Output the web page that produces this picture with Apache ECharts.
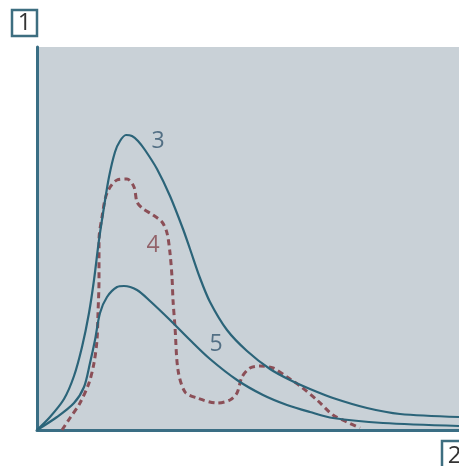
<!DOCTYPE html>
<html><head><meta charset="utf-8">
<script src="https://cdn.jsdelivr.net/npm/echarts@6/dist/echarts.min.js"></script>
<style>html,body{margin:0;padding:0;background:#fff}#c{width:459px;height:466px}</style>
</head><body><div id="c"></div>
<script>
// Curve 3 (upper solid)
const curve3 = [[0,0],[13,13],[27,31],[37,54],[45,83],[52,117],[57,150],[62,190],[67,223],[72,253],[78,278],[83,289],[89,295],[95,294],[101,289],[108,280],[120,261],[133,234],[146,201],[153,181],[163,152],[173,128],[190,100],[210,79],[233,61],[253,50],[273,41],[296,32],[330,22],[363,16],[422,13]];
// Curve 5 (lower solid)
const curve5 = [[0,0],[20,13],[37,27],[47,43],[53,67],[58,90],[63,117],[70,133],[80,143],[87,144],[100,140],[113,129],[133,110],[153,90],[173,71],[200,50],[226,35],[250,25],[273,18],[296,12],[346,7],[422,4]];
// Curve 4 (dashed)
const curve4 = [[25,0],[33,12],[43,27],[52,47],[57,67],[60,90],[61,117],[62,150],[62,190],[65,213],[70,237],[80,250],[90,251],[97,243],[100,228],[105,222],[116,215],[125,208],[130,197],[133,177],[135,153],[136,130],[138,103],[141,60],[148,38],[160,32],[180,27],[193,30],[200,37],[205,53],[213,62],[223,64],[236,62],[250,53],[263,44],[280,30],[296,15],[310,8],[323,2]];
const labels = [{t:'3',x:121,y:289,c:'#34566f'},{t:'4',x:116,y:185,c:'#84474f'},{t:'5',x:179,y:86,c:'#34566f'}];
const cornerLabels = ['1','2'];

const chart = echarts.init(document.getElementById('c'));
const blue = '#2b6479', red = '#8b4f57';
chart.setOption({
  animation:false,
  grid:{left:37,top:47,width:422,height:383,show:true,backgroundColor:'#c9d1d7',borderWidth:0},
  xAxis:{type:'value',min:0,max:422,axisLine:{show:true,onZero:false,lineStyle:{color:'#3a6e84',width:3}},axisTick:{show:false},axisLabel:{show:false},splitLine:{show:false}},
  yAxis:{type:'value',min:0,max:383,axisLine:{show:true,onZero:false,lineStyle:{color:'#3a6e84',width:3}},axisTick:{show:false},axisLabel:{show:false},splitLine:{show:false}},
  series:[
    {type:'line',data:curve3,smooth:0.3,showSymbol:false,lineStyle:{color:blue,width:2.2},z:3},
    {type:'line',data:curve5,smooth:0.3,showSymbol:false,lineStyle:{color:blue,width:2.2},z:3},
    {type:'line',data:curve4,smooth:0.3,showSymbol:false,lineStyle:{color:red,width:3,type:[6,4]},z:2},
    {type:'scatter',data:labels.map(l=>({value:[l.x,l.y],label:{show:true,formatter:l.t,color:l.c,fontSize:23,fontFamily:'Open Sans'}})),symbolSize:0,label:{position:'inside'},z:4}
  ],
  graphic:[
    {type:'rect',shape:{x:12,y:10,width:25,height:26},style:{fill:'#fff',stroke:'#3d6e80',lineWidth:2.5}},
    {type:'text',x:24.5,y:23,style:{text:cornerLabels[0],fill:'#333',fontSize:24,fontFamily:'Open Sans',align:'center',verticalAlign:'middle'}},
    {type:'rect',shape:{x:442,y:441,width:25,height:30},style:{fill:'#fff',stroke:'#3d6e80',lineWidth:2.5}},
    {type:'text',x:454.5,y:456,style:{text:cornerLabels[1],fill:'#333',fontSize:24,fontFamily:'Open Sans',align:'center',verticalAlign:'middle'}}
  ]
});
</script></body></html>
